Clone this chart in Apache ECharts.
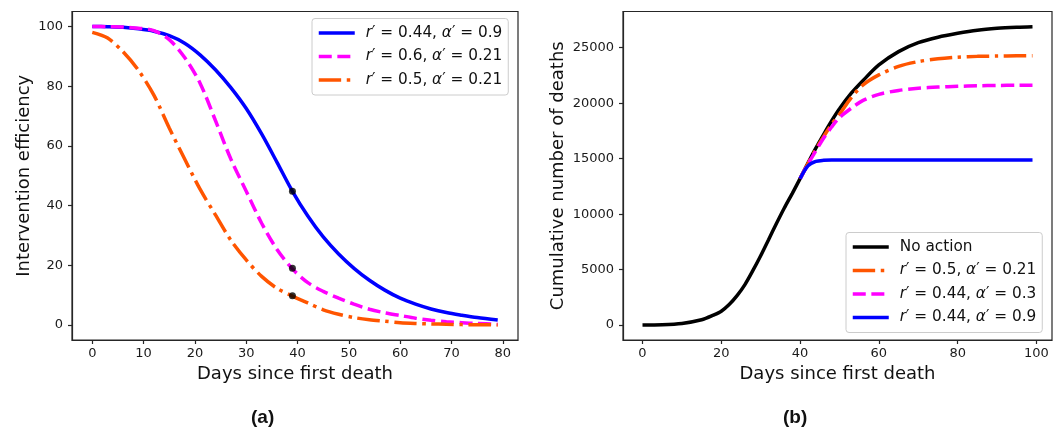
<!DOCTYPE html>
<html><head><meta charset="utf-8">
<script src="https://cdn.jsdelivr.net/npm/echarts@6/dist/echarts.min.js"></script>
<style>html,body{margin:0;padding:0;background:#fff}#c{width:1064px;height:430px}</style>
</head><body><div id="c"></div>
<script>
// ---- Panel (a): intervention efficiency ----
const effDays    = [0, 3, 6, 9, 12, 15, 18, 21, 24, 27, 30, 33, 36, 39, 42, 45, 48, 51, 54, 57, 60, 63, 66, 69, 72, 75, 79];
const effBlue    = [100, 99.9, 99.7, 99.2, 98.4, 96.9, 94.4, 90.5, 85.5, 79.5, 72.5, 64, 54.5, 44.8, 36.5, 29.5, 23.8, 19, 15, 11.7, 9, 7, 5.4, 4.2, 3.3, 2.5, 1.7];
const effMagenta = [100, 99.9, 99.8, 99.4, 98.6, 95.6, 89.6, 81, 68.5, 55.6, 44.8, 34.1, 25.3, 18.8, 14.2, 11.3, 9, 7, 5.3, 4.1, 3.2, 2.3, 1.6, 1.1, 0.8, 0.5, 0.3];
const effOrange  = [98, 96.1, 91.5, 85.3, 77, 66, 55.6, 45.5, 36.9, 28.4, 21.8, 16.3, 12.3, 9.7, 7.4, 5.1, 3.6, 2.5, 1.8, 1.3, 0.8, 0.55, 0.4, 0.25, 0.15, 0.1, 0.05];
const markerDay    = 39;
const markerValues = [44.8, 19.0, 9.8];
const effXTicks = [0, 10, 20, 30, 40, 50, 60, 70, 80];
const effYTicks = [0, 20, 40, 60, 80, 100];

// ---- Panel (b): cumulative deaths ----
const deathDays     = [0, 5, 10, 15, 18, 20, 22, 24, 26, 28, 30, 32, 34, 36, 38, 40, 42, 44, 46, 48, 50, 53, 56, 60, 65, 70, 75, 80, 85, 90, 95, 99];
const deathNoAction = [0, 30, 150, 480, 900, 1250, 1850, 2650, 3650, 4900, 6250, 7700, 9150, 10550, 11850, 13200, 14600, 15950, 17200, 18400, 19500, 20900, 22050, 23450, 24650, 25450, 25950, 26300, 26580, 26750, 26850, 26900];
const deathOrange   = [null, null, null, null, null, null, null, null, null, null, null, null, null, null, null, 13200, 14550, 15850, 17000, 18100, 19000, 20500, 21650, 22550, 23320, 23750, 24000, 24150, 24220, 24250, 24270, 24280];
const deathMagenta  = [null, null, null, null, null, null, null, null, null, null, null, null, null, null, null, 13200, 14500, 15700, 16850, 17850, 18700, 19550, 20250, 20800, 21150, 21350, 21450, 21520, 21570, 21600, 21610, 21620];
const deathBlue     = [null, null, null, null, null, null, null, null, null, null, null, null, null, null, null, 13200, 14350, 14750, 14850, 14880, 14880, 14880, 14880, 14880, 14880, 14880, 14880, 14880, 14880, 14880, 14880, 14880];
const deathXTicks = [0, 20, 40, 60, 80, 100];
const deathYTicks = [0, 5000, 10000, 15000, 20000, 25000];

// ---- Labels ----
const nameA1 = 'r′ = 0.44, α′ = 0.9';
const nameA2 = 'r′ = 0.6, α′ = 0.21';
const nameA3 = 'r′ = 0.5, α′ = 0.21';
const nameB1 = 'No action';
const nameB2 = 'r′ = 0.5, α′ = 0.21';
const nameB3 = 'r′ = 0.44, α′ = 0.3';
const nameB4 = 'r′ = 0.44, α′ = 0.9';

const FONT = 'DejaVu Sans';
const AX = '#262626';
const DASHED = [13, 5.6];
const DASHDOT = [22.4, 5.6, 3.5, 5.6];

function pairs(days, vals) {
  return days.map((d, i) => [d, vals[i]]).filter(p => p[1] != null);
}
function xAxis(idx, min, max, ticks) {
  return {
    type: 'value', gridIndex: idx, min: min, max: max, position: 'bottom',
    name: 'Days since first death', nameLocation: 'middle', nameGap: 24,
    nameTextStyle: { fontFamily: FONT, fontSize: 18, color: '#111' },
    axisLine: { show: true, onZero: false, lineStyle: { color: AX, width: 1.2 } },
    axisTick: { show: true, inside: false, length: 4, customValues: ticks, lineStyle: { color: AX, width: 1.2 } },
    axisLabel: { customValues: ticks, margin: 7, fontFamily: FONT, fontSize: 13, color: '#1a1a1a' },
    splitLine: { show: false }
  };
}
function yAxis(idx, min, max, ticks, name, gap) {
  return {
    type: 'value', gridIndex: idx, min: min, max: max, position: 'left',
    name: name, nameLocation: 'middle', nameGap: gap, nameRotate: 90,
    nameTextStyle: { fontFamily: FONT, fontSize: 18, color: '#111' },
    axisLine: { show: true, onZero: false, lineStyle: { color: AX, width: 1.2 } },
    axisTick: { show: true, inside: false, length: 4, customValues: ticks, lineStyle: { color: AX, width: 1.2 } },
    axisLabel: { customValues: ticks, margin: 9, fontFamily: FONT, fontSize: 13, color: '#1a1a1a', formatter: v => String(v) },
    splitLine: { show: false }
  };
}
function line(name, xi, data, color, type, z) {
  return {
    type: 'line', name: name, xAxisIndex: xi, yAxisIndex: xi, data: data,
    symbol: 'none', smooth: 0.3, z: z,
    lineStyle: { color: color, width: 3.5, type: type, cap: 'butt' },
    itemStyle: { color: color }
  };
}
function fmt(n) { return n.replace('r′', '{i|r}′').replace('α′', '{i|α}′'); }
function legend(names, left, top) {
  return {
    data: names, orient: 'vertical', left: left, top: top,
    itemWidth: 36, itemHeight: 14, itemGap: 5.5,
    padding: [5.5, 6, 6, 5],
    backgroundColor: 'rgba(255,255,255,0.85)', borderColor: '#cccccc', borderWidth: 1, borderRadius: 3,
    itemStyle: { opacity: 0 },
    lineStyle: { width: 3.5 },
    selectedMode: false,
    formatter: fmt,
    textStyle: {
      fontFamily: FONT, fontSize: 15.3, color: '#111', lineHeight: 18, padding: [0, 0, 0, 6],
      rich: { i: { fontFamily: FONT, fontStyle: 'italic', fontSize: 15.3, lineHeight: 18, color: '#111' } }
    }
  };
}

const chart = echarts.init(document.getElementById('c'), null, { renderer: 'canvas' });
chart.setOption({
  animation: false,
  backgroundColor: '#fff',
  grid: [
    { left: 72, top: 11.5, width: 446, height: 328.5, show: true, borderColor: AX, borderWidth: 1.2, backgroundColor: 'transparent' },
    { left: 623, top: 11.5, width: 429, height: 328.5, show: true, borderColor: AX, borderWidth: 1.2, backgroundColor: 'transparent' }
  ],
  xAxis: [xAxis(0, -3.95, 82.95, effXTicks), xAxis(1, -4.95, 103.95, deathXTicks)],
  yAxis: [
    yAxis(0, -5, 105, effYTicks, 'Intervention efficiency', 39),
    yAxis(1, -1346, 28265, deathYTicks, 'Cumulative number of deaths', 56)
  ],
  legend: [legend([nameA1, nameA2, nameA3], 312, 18.5), legend([nameB1, nameB2, nameB3, nameB4], 846, 232.5)],
  series: [
    line(nameA1, 0, pairs(effDays, effBlue), '#0000ff', 'solid', 2),
    line(nameA2, 0, pairs(effDays, effMagenta), '#ff00ff', DASHED, 3),
    line(nameA3, 0, pairs(effDays, effOrange), '#ff5500', DASHDOT, 4),
    {
      type: 'scatter', name: 'markers', xAxisIndex: 0, yAxisIndex: 0, z: 6,
      data: markerValues.map(v => [markerDay, v]),
      symbol: 'circle', symbolSize: 7, itemStyle: { color: '#000' }
    },
    line(nameB1, 1, pairs(deathDays, deathNoAction), '#000000', 'solid', 2),
    line(nameB2, 1, pairs(deathDays, deathOrange), '#ff5500', DASHDOT, 3),
    line(nameB3, 1, pairs(deathDays, deathMagenta), '#ff00ff', DASHED, 4),
    line(nameB4, 1, pairs(deathDays, deathBlue), '#0000ff', 'solid', 5)
  ],
  graphic: [
    { type: 'text', left: 266 - 15, top: 408, style: { text: '(a)', font: 'bold 19px "Liberation Sans"', fill: '#111' } },
    { type: 'text', left: 798 - 15, top: 408, style: { text: '(b)', font: 'bold 19px "Liberation Sans"', fill: '#111' } }
  ]
});
</script></body></html>
